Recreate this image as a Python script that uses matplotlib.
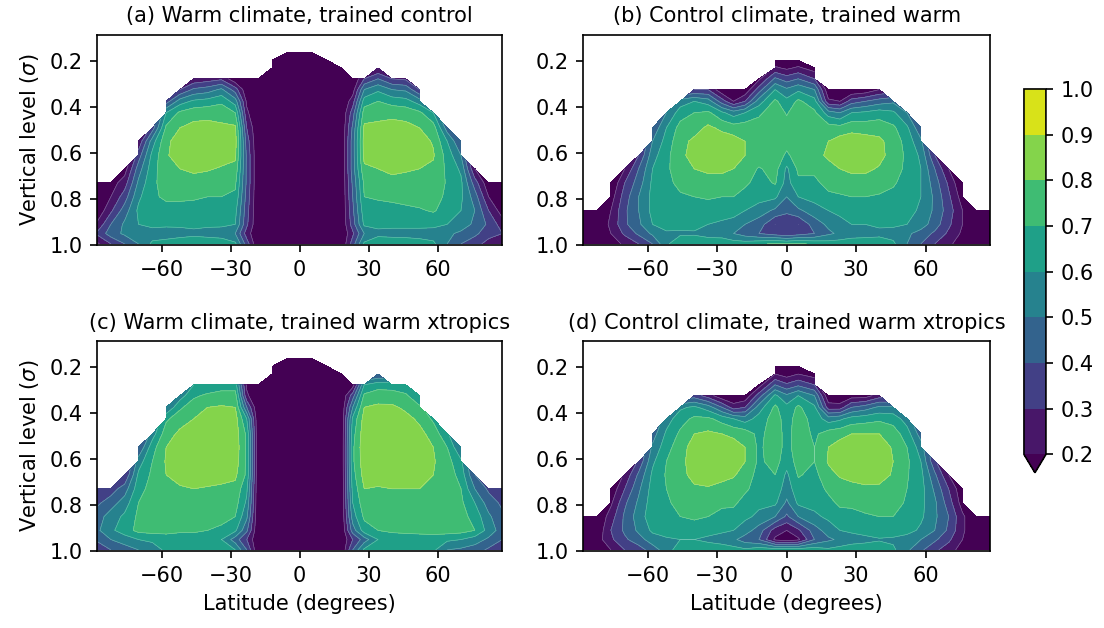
import matplotlib as mpl
import matplotlib.pyplot as plt
import numpy as np

mpl.rcParams.update({"font.size": 10, "font.family": "DejaVu Sans",
                     "axes.titlesize": "medium"})

# latitude columns (degrees) and sigma rows (top -> surface)
lats = [-87.9, -82, -76, -70, -64, -58, -52, -46, -40, -34, -28, -23, -18, -12, -5, 0,
        5, 12, 18, 23, 28, 34, 40, 46, 52, 58, 64, 70, 76, 82, 87.9]
sigma = [0.16, 0.196, 0.229, 0.276, 0.323, 0.374, 0.424, 0.49, 0.548, 0.61, 0.668,
         0.729, 0.79, 0.85, 0.91, 0.95, 0.995]

# each profile lists correlation x100 from the highest unmasked level down to the surface
prof_a = [
    [12, 12, 12, 22, 32, 18],
    [15, 20, 28, 40, 45, 30],
    [15, 25, 35, 45, 52, 52, 40],
    [22, 35, 45, 52, 58, 62, 60, 56, 50],
    [35, 55, 63, 66, 68, 68, 67, 63, 55, 62],
    [35, 60, 72, 78, 79, 77, 74, 72, 66, 62, 55, 64],
    [30, 55, 72, 80, 84, 84, 80, 75, 72, 66, 62, 56, 66],
    [22, 42, 62, 76, 83, 87, 86, 82, 76, 71, 67, 63, 57, 68],
    [25, 45, 64, 77, 83, 86, 86, 81, 75, 70, 66, 62, 56, 67],
    [28, 52, 68, 76, 82, 85, 84, 79, 74, 70, 66, 62, 55, 66],
    [12, 35, 55, 70, 82, 84, 82, 77, 72, 68, 63, 60, 50, 62],
    [10, 12, 18, 22, 30, 35, 38, 38, 38, 36, 34, 32, 25, 35],
    [10, 10, 10, 10, 10, 10, 10, 10, 10, 10, 10, 10, 10, 10],
    [10, 10, 10, 10, 10, 10, 10, 10, 10, 10, 10, 10, 10, 10, 10, 10],
    [10, 10, 10, 10, 10, 10, 10, 10, 10, 10, 10, 10, 10, 10, 10, 10, 10],
    [10, 10, 10, 10, 10, 10, 10, 10, 10, 10, 10, 10, 10, 10, 10, 10, 10],
    [10, 10, 10, 10, 10, 10, 10, 10, 10, 10, 10, 10, 10, 10, 10, 10, 10],
    [10, 10, 10, 10, 10, 10, 10, 10, 10, 10, 10, 10, 10, 10, 10, 10],
    [10, 10, 10, 10, 10, 10, 10, 10, 10, 10, 10, 10, 10, 10, 10],
    [10, 15, 25, 35, 42, 45, 45, 45, 42, 40, 38, 35, 28, 35],
    [30, 50, 65, 75, 82, 84, 83, 78, 72, 70, 66, 62, 50, 62],
    [20, 40, 58, 70, 76, 83, 86, 85, 80, 75, 71, 67, 63, 57, 67],
    [30, 50, 66, 77, 84, 87, 87, 83, 76, 72, 67, 63, 56, 67],
    [28, 48, 64, 76, 83, 86, 86, 81, 77, 73, 68, 63, 56, 66],
    [30, 55, 72, 80, 84, 85, 80, 77, 74, 69, 63, 56, 64],
    [60, 75, 79, 81, 78, 76, 74, 71, 63, 55, 62],
    [45, 60, 66, 68, 69, 68, 66, 60, 52, 50],
    [40, 50, 58, 62, 62, 60, 55, 48, 40],
    [20, 35, 45, 50, 48, 42, 35],
    [12, 20, 30, 38, 35, 25],
    [10, 12, 15, 25, 30, 20],
]

prof_b = [
    [10, 10, 12, 12],
    [10, 12, 15, 12],
    [10, 15, 20, 22, 20, 15],
    [20, 30, 35, 38, 38, 32, 22],
    [30, 40, 45, 50, 50, 48, 42, 30],
    [42, 50, 56, 60, 62, 63, 63, 60, 52, 40],
    [50, 60, 64, 67, 68, 68, 68, 67, 65, 58, 58],
    [55, 65, 74, 77, 78, 76, 72, 69, 67, 64, 58, 68],
    [30, 60, 70, 76, 82, 83, 80, 74, 70, 67, 65, 58, 70],
    [30, 55, 72, 82, 86, 86, 82, 76, 71, 66, 60, 55, 68],
    [12, 35, 62, 78, 85, 86, 82, 76, 70, 65, 58, 54, 68],
    [10, 20, 55, 75, 84, 85, 80, 74, 70, 64, 56, 50, 65],
    [12, 30, 60, 76, 80, 80, 76, 72, 66, 60, 50, 45, 65],
    [18, 35, 55, 68, 75, 77, 76, 69, 66, 64, 55, 45, 40, 68],
    [12, 22, 42, 60, 72, 76, 77, 77, 76, 74, 71, 62, 48, 30, 35, 72],
    [10, 18, 35, 52, 63, 69, 74, 74, 68, 58, 56, 50, 42, 33, 32, 70],
    [12, 22, 40, 58, 72, 76, 77, 77, 75, 72, 68, 60, 48, 30, 35, 72],
    [15, 30, 50, 64, 72, 77, 80, 78, 72, 68, 64, 55, 45, 40, 68],
    [12, 22, 55, 75, 80, 81, 78, 73, 68, 60, 52, 48, 65],
    [10, 20, 50, 74, 84, 85, 80, 74, 69, 63, 56, 52, 65],
    [10, 35, 60, 77, 85, 86, 82, 76, 70, 65, 60, 55, 66],
    [12, 40, 62, 76, 84, 86, 82, 76, 70, 66, 60, 56, 66],
    [20, 45, 65, 76, 82, 83, 79, 74, 69, 65, 62, 57, 66],
    [48, 62, 72, 76, 76, 74, 71, 68, 65, 62, 56, 62],
    [50, 62, 66, 68, 68, 67, 66, 64, 60, 52, 50],
    [42, 52, 58, 60, 60, 60, 58, 55, 46, 40],
    [30, 40, 45, 48, 48, 45, 38, 30],
    [20, 28, 32, 35, 32, 28, 22],
    [10, 15, 20, 20, 18, 15],
    [10, 10, 12, 12],
    [10, 10, 12, 12],
]

prof_c = [
    [30, 38, 45, 48, 42, 32],
    [35, 45, 55, 58, 50, 40],
    [30, 45, 55, 62, 65, 55, 45],
    [40, 55, 62, 66, 70, 72, 73, 60, 50],
    [55, 66, 70, 72, 74, 75, 76, 74, 62, 55],
    [50, 68, 76, 80, 81, 80, 78, 77, 77, 74, 64, 62],
    [55, 68, 76, 82, 85, 86, 83, 79, 77, 76, 72, 64, 68],
    [60, 68, 76, 80, 85, 87, 87, 85, 80, 77, 75, 72, 64, 70],
    [62, 72, 80, 84, 86, 87, 87, 85, 79, 76, 74, 70, 64, 70],
    [65, 74, 81, 85, 87, 88, 87, 84, 78, 76, 73, 68, 60, 68],
    [65, 74, 80, 84, 85, 86, 85, 82, 77, 74, 70, 62, 45, 60],
    [18, 22, 40, 60, 68, 68, 68, 68, 62, 58, 52, 42, 30, 40],
    [10, 10, 10, 10, 10, 10, 10, 10, 10, 10, 10, 10, 10, 10],
    [10, 10, 10, 10, 10, 10, 10, 10, 10, 10, 10, 10, 10, 10, 10, 10],
    [10, 10, 10, 10, 10, 10, 10, 10, 10, 10, 10, 10, 10, 10, 10, 10, 10],
    [10, 10, 10, 10, 10, 10, 10, 10, 10, 10, 10, 10, 10, 10, 10, 10, 10],
    [10, 10, 10, 10, 10, 10, 10, 10, 10, 10, 10, 10, 10, 10, 10, 10, 10],
    [10, 10, 10, 10, 10, 10, 10, 10, 10, 10, 10, 10, 10, 10, 10, 10],
    [10, 10, 10, 10, 10, 10, 10, 10, 10, 10, 10, 10, 10, 10, 10],
    [15, 35, 50, 62, 66, 68, 68, 66, 63, 60, 55, 45, 30, 40],
    [60, 72, 80, 84, 86, 87, 86, 84, 80, 76, 72, 65, 45, 62],
    [40, 66, 75, 82, 86, 88, 88, 87, 85, 79, 77, 74, 70, 60, 68],
    [66, 74, 82, 86, 88, 88, 87, 85, 80, 77, 75, 72, 64, 70],
    [62, 72, 78, 83, 86, 87, 87, 85, 80, 77, 76, 73, 64, 70],
    [60, 72, 78, 83, 86, 86, 84, 80, 78, 77, 74, 64, 70],
    [68, 76, 80, 81, 80, 79, 78, 78, 75, 64, 62],
    [62, 70, 74, 76, 76, 76, 77, 75, 62, 50],
    [50, 62, 66, 70, 72, 74, 74, 60, 48],
    [40, 50, 60, 66, 70, 55, 45],
    [38, 45, 52, 56, 48, 38],
    [30, 38, 42, 45, 40, 32],
]

prof_d = [
    [10, 10, 12, 12],
    [10, 12, 15, 15],
    [12, 18, 25, 30, 28, 20],
    [22, 30, 38, 42, 42, 38, 30],
    [32, 42, 48, 52, 55, 52, 46, 35],
    [45, 52, 58, 62, 64, 65, 66, 62, 55, 45],
    [55, 62, 66, 70, 71, 70, 69, 68, 66, 58, 55],
    [58, 66, 72, 76, 77, 76, 74, 72, 70, 66, 60, 66],
    [35, 62, 72, 80, 84, 85, 84, 78, 74, 71, 67, 60, 68],
    [25, 55, 72, 82, 86, 87, 85, 79, 74, 70, 65, 57, 68],
    [12, 40, 66, 80, 86, 87, 83, 77, 72, 67, 62, 55, 66],
    [10, 25, 60, 78, 84, 85, 81, 76, 72, 66, 60, 52, 64],
    [12, 30, 55, 76, 80, 80, 76, 72, 66, 62, 55, 45, 62],
    [15, 35, 55, 64, 67, 68, 68, 66, 65, 62, 58, 45, 40, 66],
    [10, 20, 40, 62, 72, 75, 76, 76, 74, 70, 66, 62, 50, 25, 18, 66],
    [10, 15, 32, 52, 63, 65, 66, 66, 64, 58, 55, 48, 38, 20, 14, 66],
    [10, 20, 38, 60, 72, 75, 76, 76, 74, 71, 66, 62, 50, 28, 18, 66],
    [15, 30, 50, 62, 66, 68, 70, 70, 67, 65, 63, 58, 45, 40, 66],
    [12, 25, 55, 75, 80, 81, 77, 72, 67, 62, 55, 48, 62],
    [10, 25, 58, 77, 84, 85, 81, 76, 72, 66, 60, 52, 64],
    [15, 40, 64, 80, 86, 87, 83, 77, 72, 67, 62, 55, 66],
    [15, 45, 66, 80, 86, 87, 85, 78, 73, 69, 64, 57, 66],
    [25, 52, 68, 80, 85, 86, 84, 78, 74, 70, 66, 59, 66],
    [52, 66, 75, 79, 80, 79, 76, 73, 70, 66, 58, 62],
    [55, 65, 70, 72, 71, 70, 69, 67, 64, 55, 52],
    [45, 55, 60, 63, 64, 63, 62, 58, 50, 42],
    [32, 42, 48, 52, 52, 50, 42, 32],
    [20, 30, 35, 40, 38, 32, 25],
    [12, 15, 22, 22, 20, 15],
    [10, 10, 12, 12],
    [10, 10, 12, 12],
]

titles = ["(a) Warm climate, trained control",
          "(b) Control climate, trained warm",
          "(c) Warm climate, trained warm xtropics",
          "(d) Control climate, trained warm xtropics"]


def to_field(profiles):
    field = np.full((len(sigma), len(lats)), np.nan)
    for j, prof in enumerate(profiles):
        field[len(sigma) - len(prof):, j] = np.array(prof) / 100.0
    return np.ma.masked_invalid(field)


levels = np.linspace(0.2, 1.0, 9)

fig = plt.figure(figsize=(7.36, 4.1867), dpi=150)
boxes = [[0.0881, 0.6099, 0.3668, 0.3344],
         [0.5284, 0.6099, 0.3684, 0.3344],
         [0.0881, 0.1226, 0.3668, 0.3344],
         [0.5284, 0.1226, 0.3684, 0.3344]]

for i, (prof, box) in enumerate(zip([prof_a, prof_b, prof_c, prof_d], boxes)):
    ax = fig.add_axes(box)
    field = to_field(prof)
    cs = ax.contourf(lats, sigma, field, levels=levels, cmap="viridis",
                     extend="min")
    # faint seams between filled bands, as in the rendered original
    ax.contour(lats, sigma, field, levels=levels, colors="white",
               linewidths=0.3, alpha=0.35)
    ax.set_xlim(lats[0], lats[-1])
    ax.set_ylim(1.0, 0.085)
    ax.set_xticks([-60, -30, 0, 30, 60])
    ax.set_yticks([0.2, 0.4, 0.6, 0.8, 1.0])
    ax.set_title(titles[i])
    if i % 2 == 0:
        ax.set_ylabel(r"Vertical level ($\sigma$)")
    if i >= 2:
        ax.set_xlabel("Latitude (degrees)")

cax = fig.add_axes([0.9275, 0.2473, 0.0199, 0.611])
fig.colorbar(cs, cax=cax, ticks=levels)

fig.savefig("out.png", dpi=150)
